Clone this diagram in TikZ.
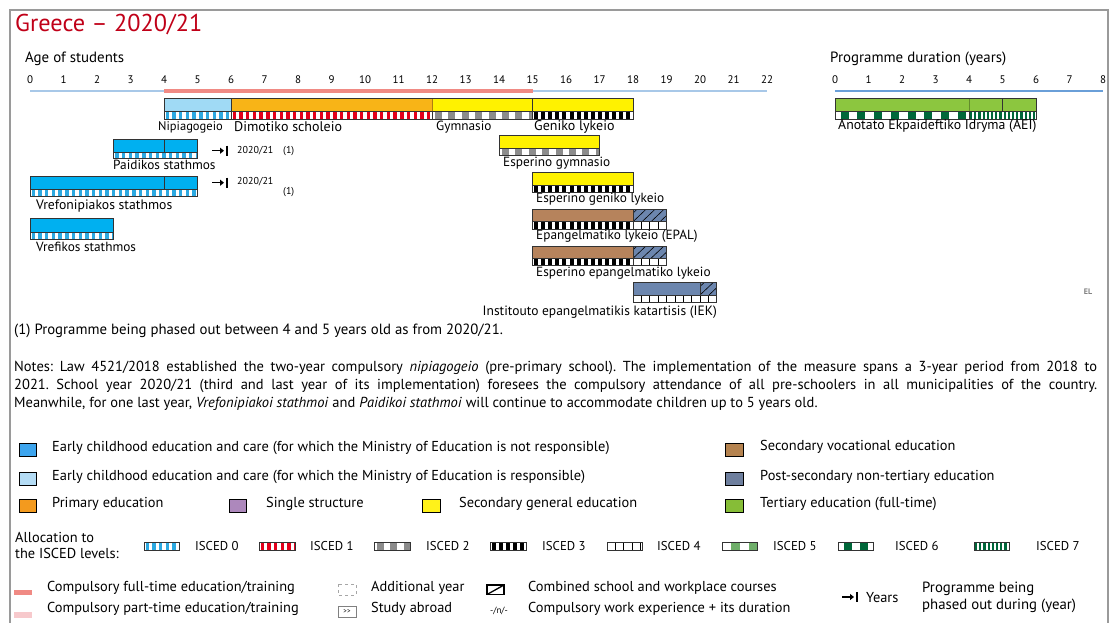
\documentclass[tikz,border=0pt]{standalone}
\usepackage{fontspec}
\setmainfont{PT Sans}
\usetikzlibrary{arrows.meta}
\frenchspacing
\definecolor{ecnot}{HTML}{00B0F0}
\definecolor{ecmoe}{HTML}{A0DAF5}
\definecolor{prim}{HTML}{F8B417}
\definecolor{secgen}{HTML}{FFF200}
\definecolor{secvoc}{HTML}{B6835C}
\definecolor{postsec}{HTML}{6C86AE}
\definecolor{tert}{HTML}{8CC63F}
\definecolor{legecnot}{HTML}{3DA5EE}
\definecolor{legecmoe}{HTML}{B4DCF5}
\definecolor{legprim}{HTML}{F39A1E}
\definecolor{legsingle}{HTML}{AD88BC}
\definecolor{legsec}{HTML}{FFF21A}
\definecolor{legvoc}{HTML}{B5834F}
\definecolor{legpost}{HTML}{6E7F9E}
\definecolor{legtert}{HTML}{86BD37}
\definecolor{isc0}{HTML}{2CA9E1}
\definecolor{isc1}{HTML}{E3001B}
\definecolor{isc2}{HTML}{8C8C8C}
\definecolor{isc5}{HTML}{6FAF6A}
\definecolor{isc6}{HTML}{00673A}
\definecolor{comp}{HTML}{F08A84}
\definecolor{partc}{HTML}{F7C9CC}
\definecolor{axisb}{HTML}{A8C8E8}
\definecolor{axisr}{HTML}{6A9FD8}
\definecolor{titler}{HTML}{C00018}
\definecolor{framec}{HTML}{9A9A9A}
\definecolor{barline}{HTML}{333333}
\newcommand\fs[1]{\fontsize{#1}{#1}\selectfont}
\newcommand\blocks[8]{% x1 x2 yt yb period width color offset
  \pgfmathtruncatemacro\nblk{(#2-#1)/#5+1}
  \foreach \k in {0,...,\nblk}{\fill[#7] ({#1+#8+\k*#5},#3) rectangle ({#1+#8+\k*#5+#6},#4);}}
\newcommand\ispA[4]{\blocks{#1}{#2}{#3}{#4}{6.7}{3.4}{isc0}{1.6}}
\newcommand\ispB[4]{\blocks{#1}{#2}{#3}{#4}{6.7}{3.4}{isc1}{1.6}}
\newcommand\ispC[4]{\blocks{#1}{#2}{#3}{#4}{13.4}{7}{isc2}{3}}
\newcommand\ispD[4]{\blocks{#1}{#2}{#3}{#4}{7.1}{4}{black}{1.5}}
\newcommand\ispE[4]{\foreach \k in {1,...,40}{\draw[black,line width=0.9] ({#1+\k*8.4},#3) -- ({#1+\k*8.4},#4);}}
\newcommand\ispF[4]{\blocks{#1}{#2}{#3}{#4}{18}{9}{isc5}{9}}
\newcommand\ispG[4]{\blocks{#1}{#2}{#3}{#4}{16.75}{8}{isc6}{5.5}}
\newcommand\ispH[4]{\blocks{#1}{#2}{#3}{#4}{4.2}{2.2}{isc6}{1}}
\newcommand\isstripe[5]{%
  \begin{scope}
    \clip (#2,#4) rectangle (#3,#5);
    \fill[white] (#2,#4) rectangle (#3,#5);
    \csname isp#1\endcsname{#2}{#3}{#4}{#5}
  \end{scope}
  \draw[barl] (#2,#4) rectangle (#3,#5);}
\newcommand\hatchbox[4]{%
  \fill[postsec] (#1,#3) rectangle (#2,#4);
  \begin{scope}
    \clip (#1,#3) rectangle (#2,#4);
    \foreach \k in {-2,...,5}{\draw[black,line width=0.6] ({#1+\k*9},#4) -- ({#1+\k*9+13},#3);}
  \end{scope}}
\newcommand\phaseout[3]{% name x y
  \coordinate (#1a) at (#2,#3);
  \coordinate (#1b) at ({#2+12},#3);
  \draw[line width=1.3,-{Triangle[length=4pt,width=6pt]}] (#1a) -- (#1b);
  \draw[line width=2] ({#2+14.5},{#3-5}) -- ({#2+14.5},{#3+5});}
\tikzset{
  barl/.style={draw=barline,line width=0.8},
  tx/.style={anchor=west,inner sep=0,font=\fs{14.4}},
  isc/.style={anchor=west,inner sep=0,font=\fs{12.8}},
  lab/.style={anchor=west,inner sep=0,font=\fs{13.3}},
  legbox/.style={draw=black,line width=0.8},
}
\begin{document}
\begin{tikzpicture}[x=1pt,y=-1pt]
\useasboundingbox (0,0) rectangle (1110,622);
\draw[framec,line width=1.8] (10,660) -- (10,10) -- (1108,10) -- (1108,660);
\node[anchor=west,inner sep=0,text=titler,font=\fs{24.3}] (title) at (15,25) {Greece – 2020/21};
\node[anchor=west,inner sep=0,font=\fs{14.9}] (age) at (25,59) {Age of students};
\node[anchor=west,inner sep=0,font=\fs{14.9}] (dur) at (830,59) {Programme duration (years)};
\foreach \a in {0,...,22}{\node[inner sep=0,font=\fs{11}] (ta\a) at ({30+33.5*\a},80) {\a};}
\foreach \a in {0,...,8}{\node[inner sep=0,font=\fs{11}] (td\a) at ({835+33.5*\a},80) {\a};}
\draw[axisb,line width=2.5] (30,91) -- (767,91);
\draw[comp,line width=3.5] (164,91) -- (532.5,91);
\draw[axisr,line width=2] (835,91) -- (1103,91);
% row 1
\fill[ecmoe] (164,98) rectangle (231,111.5);
\fill[prim] (231,98) rectangle (432,111.5);
\fill[secgen] (432,98) rectangle (633,111.5);
\draw[prim!70!black,line width=0.4] (432,98) -- (432,111.5);
\draw[barl] (164,98) rectangle (633,111.5);
\draw[barl] (231,98) -- (231,111.5) (532.5,98) -- (532.5,111.5);
\isstripe{A}{164}{231}{111.5}{119}
\isstripe{B}{231}{432}{111.5}{119}
\isstripe{C}{432}{532.5}{111.5}{119}
\isstripe{D}{532.5}{633}{111.5}{119}
\node[lab,font=\fs{12.5}] (n1) at (158,127) {Nipiagogeio};
\node[lab,font=\fs{14}] (n2) at (234,127) {Dimotiko scholeio};
\node[lab] (n3) at (436,127) {Gymnasio};
\node[lab,font=\fs{14}] (n4) at (534,127) {Geniko lykeio};
% Paidikos
\fill[ecnot] (113.75,139.3) rectangle (197.5,152);
\draw[barl] (113.75,139.3) rectangle (197.5,152);
\draw[barl] (164,139.3) -- (164,152);
\isstripe{A}{113.75}{197.5}{152}{158.3}
\node[lab] (n5) at (113,165) {Paidikos stathmos};
\phaseout{pa}{212}{150.7}
\node[anchor=west,inner sep=0,font=\fs{10}] (y1) at (237,150.7) {2020/21};
\node[anchor=west,inner sep=0,font=\fs{10}] (f1) at (283,151.5) {(1)};
% Esperino gymnasio
\fill[secgen] (499,135.7) rectangle (599.5,148.3);
\draw[barl] (499,135.7) rectangle (599.5,148.3);
\isstripe{C}{499}{599.5}{148.3}{155.7}
\node[lab] (n6) at (503,162.7) {Esperino gymnasio};
% Vrefonipiakos
\fill[ecnot] (30,176) rectangle (197.5,189);
\draw[barl] (30,176) rectangle (197.5,189);
\draw[barl] (164,176) -- (164,189);
\isstripe{A}{30}{197.5}{189}{196}
\node[lab,font=\fs{13.7}] (n7) at (36,206) {Vrefonipiakos stathmos};
\phaseout{pb}{212}{182.7}
\node[anchor=west,inner sep=0,font=\fs{10}] (y2) at (237,182) {2020/21};
\node[anchor=west,inner sep=0,font=\fs{10}] (f2) at (283,192) {(1)};
% Esperino geniko lykeio
\fill[secgen] (532.5,172.7) rectangle (633,185);
\draw[barl] (532.5,172.7) rectangle (633,185);
\isstripe{D}{532.5}{633}{185}{192.7}
\node[lab] (n8) at (536,199) {Esperino geniko lykeio};
% Vrefikos
\fill[ecnot] (30,218.3) rectangle (113.75,232);
\draw[barl] (30,218.3) rectangle (113.75,232);
\isstripe{A}{30}{113.75}{232}{239}
\node[lab] (n9) at (36,246.7) {Vrefikos stathmos};
% EPAL
\fill[secvoc] (532.5,209.3) rectangle (633,221.7);
\hatchbox{633}{666.5}{209.3}{221.7}
\draw[barl] (532.5,209.3) rectangle (666.5,221.7);
\draw[barl] (633,209.3) -- (633,221.7);
\isstripe{D}{532.5}{633}{221.7}{229}
\isstripe{E}{633}{666.5}{221.7}{229}
\node[lab] (n10) at (536,236) {Epangelmatiko lykeio (EPAL)};
% Esperino epangelmatiko
\fill[secvoc] (532.5,246) rectangle (633,258.3);
\hatchbox{633}{666.5}{246}{258.3}
\draw[barl] (532.5,246) rectangle (666.5,258.3);
\draw[barl] (633,246) -- (633,258.3);
\isstripe{D}{532.5}{633}{258.3}{265.7}
\isstripe{E}{633}{666.5}{258.3}{265.7}
\node[lab] (n11) at (536,272.7) {Esperino epangelmatiko lykeio};
% IEK
\fill[postsec] (633,282.7) rectangle (700,295);
\hatchbox{700}{716.75}{282.7}{295}
\draw[barl] (633,282.7) rectangle (716.75,295);
\draw[barl] (700,282.7) -- (700,295);
\isstripe{E}{633}{716.75}{295}{302.3}
\node[anchor=east,inner sep=0,font=\fs{13.5}] (n12) at (717,311.7) {Institouto epangelmatikis katartisis (IEK)};
% AEI
\fill[tert] (835,98.3) rectangle (1036,111.7);
\draw[tert!70!black,line width=0.4] (969,98.3) -- (969,111.7);
\draw[barl] (835,98.3) rectangle (1036,111.7);
\draw[barl] (1002.5,98.3) -- (1002.5,111.7);
\isstripe{G}{835}{969}{111.7}{119.3}
\isstripe{H}{969}{1036}{111.7}{119.3}
\node[lab,font=\fs{13.8}] (n13) at (838,126) {Anotato Ekpaideftiko Idryma (AEI)};
\node[inner sep=0,font=\fs{8}\bfseries,text=black!50] (el) at (1088,292) {EL};
% footnote and notes
\node[anchor=west,inner sep=0,font=\fs{14.8}] (fn) at (14,331) {(1) Programme being phased out between 4 and 5 years old as from 2020/21.};
\node[anchor=north west,inner sep=0,text width=1083pt,align=justify,font=\fontsize{14.5}{18}\selectfont] (notes) at (14,361)
 {Notes: Law 4521/2018 established the two-year compulsory \textit{nipiagogeio} (pre-primary school). The implementation of the measure spans a 3-year period from 2018 to\linebreak 2021. School year 2020/21 (third and last year of its implementation) foresees the compulsory attendance of all pre-schoolers in all municipalities of the country.\linebreak Meanwhile, for one last year, \textit{Vrefonipiakoi stathmoi} and \textit{Paidikoi stathmoi} will continue to accommodate children up to 5 years old.};
% colour legend
\draw[legbox,fill=legecnot] (19,443.5) rectangle (36,456.5);
\node[tx] (l1) at (52,447.5) {Early childhood education and care (for which the Ministry of Education is not responsible)};
\draw[legbox,fill=legecmoe] (19,472.5) rectangle (36,485.5);
\node[tx] (l2) at (52,476.5) {Early childhood education and care (for which the Ministry of Education is responsible)};
\draw[legbox,fill=legprim] (19,499.5) rectangle (36,512.5);
\node[tx] (l3) at (52,504) {Primary education};
\draw[legbox,fill=legsingle] (229,499.5) rectangle (246,512.5);
\node[tx] (l4) at (266,504) {Single structure};
\draw[legbox,fill=legsec] (422,499.5) rectangle (440,512.5);
\node[tx] (l5) at (459,504) {Secondary general education};
\draw[legbox,fill=legvoc] (725,443.5) rectangle (743,456.5);
\node[tx] (l6) at (760,446.5) {Secondary vocational education};
\draw[legbox,fill=legpost] (725,472.5) rectangle (743,485.5);
\node[tx] (l7) at (760,476.5) {Post-secondary non-tertiary education};
\draw[legbox,fill=legtert] (725,499.5) rectangle (743,512.5);
\node[tx] (l8) at (760,504) {Tertiary education (full-time)};
% ISCED allocation
\node[tx] (al1) at (15,537) {Allocation to};
\node[tx] (al2) at (15,553) {the ISCED levels:};
\isstripe{A}{144}{179}{542}{550}
\node[isc] (i0) at (195,546) {ISCED 0};
\isstripe{B}{259}{295}{542}{550}
\node[isc] (i1) at (310,546) {ISCED 1};
\isstripe{C}{374}{410}{542}{550}
\node[isc] (i2) at (426,546) {ISCED 2};
\isstripe{D}{490}{526}{542}{550}
\node[isc] (i3) at (542,546) {ISCED 3};
\isstripe{E}{607}{642}{542}{550}
\node[isc] (i4) at (657,546) {ISCED 4};
\isstripe{F}{722}{757}{542}{550}
\node[isc] (i5) at (773,546) {ISCED 5};
\isstripe{G}{838}{873}{542}{550}
\node[isc] (i6) at (895,546) {ISCED 6};
\isstripe{H}{974}{1009}{542}{550}
\node[isc] (i7) at (1036,546) {ISCED 7};
% bottom legend
\fill[comp] (14,589.5) rectangle (32,595);
\node[tx] (b1) at (47,587.5) {Compulsory full-time education/training};
\fill[partc] (14,612) rectangle (32,618);
\node[tx] (b2) at (47,609) {Compulsory part-time education/training};
\draw[black!35,dashed,line width=0.6] (338,584) rectangle (356,595);
\node[tx] (b3) at (371,587.5) {Additional year};
\draw[black!50,line width=0.6] (338,606.5) rectangle (356,617.5);
\node[inner sep=0,font=\fs{7}] (ab) at (347,612) {{>}{>}};
\node[tx] (b4) at (371,609) {Study abroad};
\draw[black,line width=1.3] (487,585) rectangle (504,594.5);
\draw[black,line width=1.3] (487,594.5) -- (504,585);
\node[tx] (b5) at (528,587.5) {Combined school and workplace courses};
\node[inner sep=0,font=\fs{9}] (wx) at (499,610.5) {-/n/-};
\node[tx] (b6) at (528,609) {Compulsory work experience + its duration};
\phaseout{pc}{842}{597}
\node[tx] (b7) at (866,597.5) {Years};
\node[tx,font=\fs{14.8}] (b8) at (922,589) {Programme being};
\node[tx,font=\fs{14.8}] (b9) at (922,606) {phased out during (year)};
\end{tikzpicture}
\end{document}
